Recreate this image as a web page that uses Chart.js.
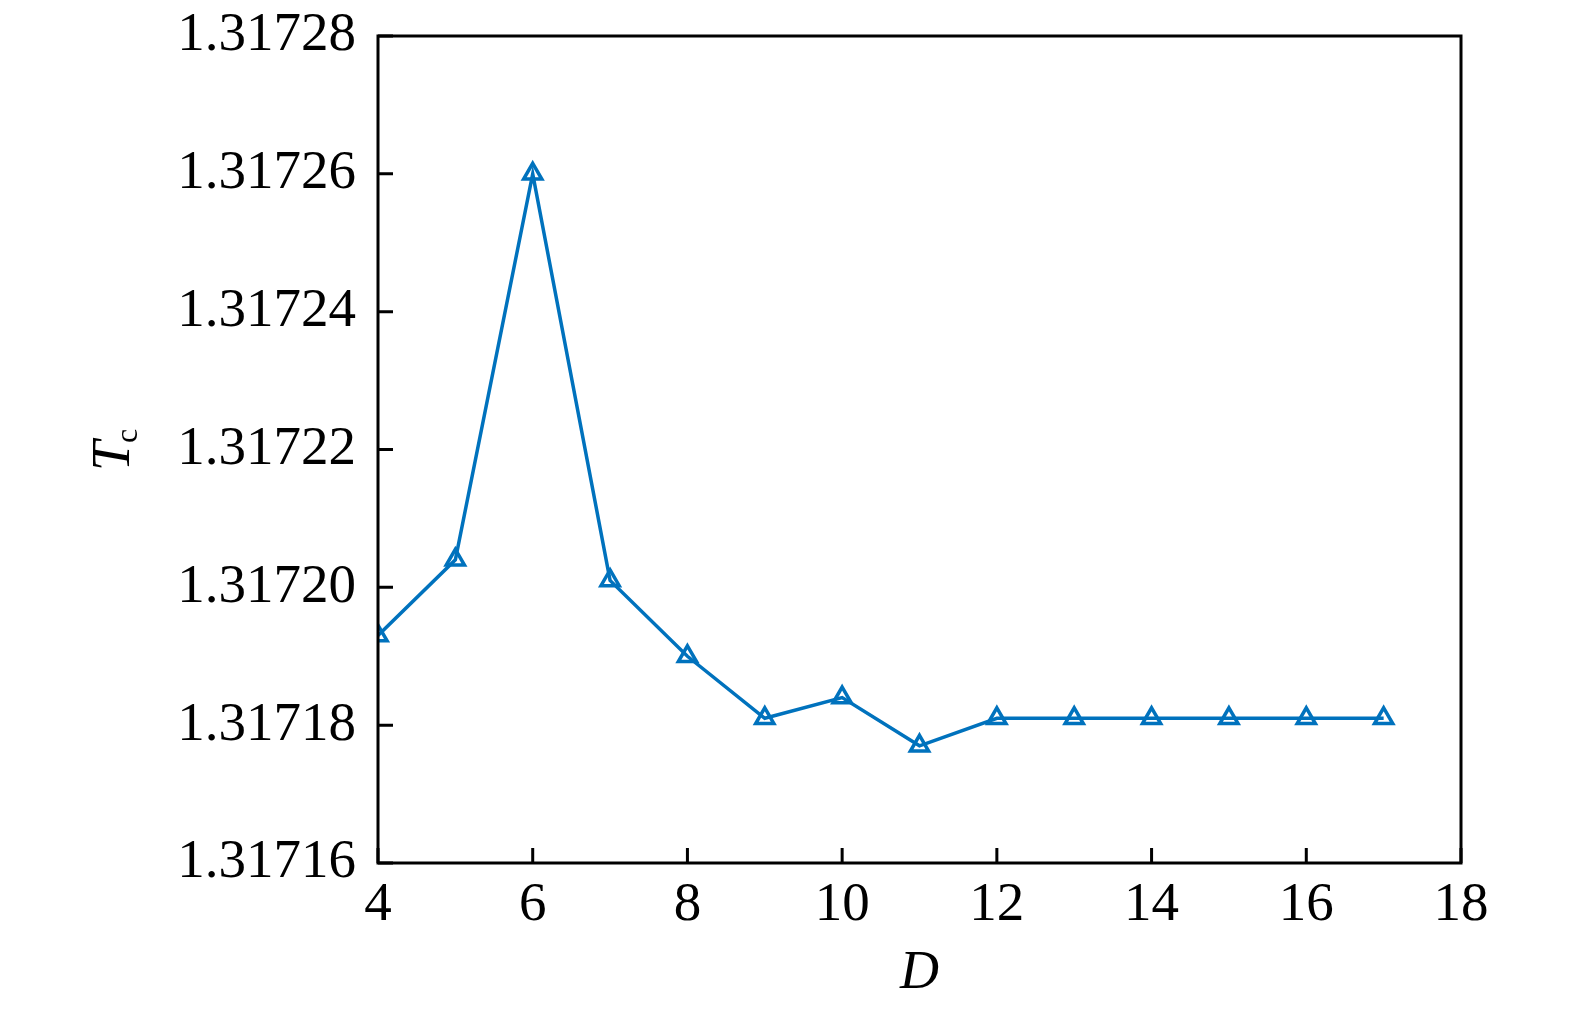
<!DOCTYPE html>
<html>
<head>
<meta charset="utf-8">
<script src="https://cdn.jsdelivr.net/npm/chart.js@4.4.0/dist/chart.umd.min.js"></script>
<style>
  html, body { margin: 0; padding: 0; background: #fff; }
  #wrap { width: 1575px; height: 1014px; }
</style>
</head>
<body>
<div id="wrap"><canvas id="chart"></canvas></div>
<script>
const dValues = [4, 5, 6, 7, 8, 9, 10, 11, 12, 13, 14, 15, 16, 17];
const tcValues = [1.317193, 1.317204, 1.31726, 1.317201, 1.31719, 1.317181, 1.317184,
                  1.317177, 1.317181, 1.317181, 1.317181, 1.317181, 1.317181, 1.317181];
const xTicks = [4, 6, 8, 10, 12, 14, 16, 18];
const yTicks = [1.31716, 1.31718, 1.3172, 1.31722, 1.31724, 1.31726, 1.31728];

const FONT = '"Liberation Serif", "DejaVu Serif", serif';
const BLUE = '#0072BD';

// frame, inward ticks and the T_c label
const framePlugin = {
    id: 'frame',
    afterDraw(chart) {
        const { ctx, chartArea: a, scales } = chart;
        ctx.save();
        ctx.strokeStyle = '#000';
        ctx.lineWidth = 3;
        ctx.strokeRect(a.left, a.top, a.right - a.left, a.bottom - a.top);
        ctx.beginPath();
        scales.x.ticks.forEach(t => {
            const px = scales.x.getPixelForValue(t.value);
            ctx.moveTo(px, a.bottom); ctx.lineTo(px, a.bottom - 15);
        });
        scales.y.ticks.forEach(t => {
            const py = scales.y.getPixelForValue(t.value);
            ctx.moveTo(a.left, py); ctx.lineTo(a.left + 15, py);
        });
        ctx.stroke();

        ctx.translate(129, 449);
        ctx.rotate(-Math.PI / 2);
        ctx.fillStyle = '#000';
        ctx.textBaseline = 'alphabetic';
        ctx.textAlign = 'left';
        ctx.font = 'italic 54px ' + FONT;
        const tw = ctx.measureText('T').width;
        ctx.font = '32px ' + FONT;
        const cw = ctx.measureText('c').width;
        const x0 = -(tw + cw) / 2;
        ctx.font = 'italic 54px ' + FONT;
        ctx.fillText('T', x0, 0);
        ctx.font = '32px ' + FONT;
        ctx.fillText('c', x0 + tw - 2, 8);
        ctx.restore();
    }
};

new Chart(document.getElementById('chart').getContext('2d'), {
    type: 'line',
    data: {
        datasets: [{
            data: dValues.map((d, i) => ({ x: d, y: tcValues[i] })),
            borderColor: BLUE,
            borderWidth: 3.5,
            pointStyle: 'triangle',
            pointRadius: 10.5,
            pointBorderWidth: 3.5,
            pointBackgroundColor: 'rgba(0,0,0,0)',
            pointBorderColor: BLUE,
            tension: 0
        }]
    },
    options: {
        responsive: true,
        maintainAspectRatio: false,
        animation: false,
        layout: { padding: { left: 0, right: 114, top: 36, bottom: 0 } },
        plugins: { legend: { display: false }, tooltip: { enabled: false } },
        scales: {
            x: {
                type: 'linear',
                min: 4, max: 18,
                afterBuildTicks: s => { s.ticks = xTicks.map(v => ({ value: v })); },
                afterFit: s => { s.height = 151; s.paddingLeft = 0; s.paddingRight = 0; },
                grid: { display: false },
                border: { display: false },
                ticks: { color: '#000', font: { family: FONT, size: 55 }, padding: 2, maxRotation: 0 },
                title: { display: true, text: 'D', color: '#000', font: { family: FONT, size: 54, style: 'italic' }, padding: { top: 10, bottom: 8 } }
            },
            y: {
                min: 1.31716, max: 1.31728,
                afterBuildTicks: s => { s.ticks = yTicks.map(v => ({ value: v })); },
                afterFit: s => { s.width = 378; s.paddingTop = 0; s.paddingBottom = 0; },
                grid: { display: false },
                border: { display: false },
                ticks: { color: '#000', font: { family: FONT, size: 55 }, padding: 14, callback: v => v.toFixed(5) }
            }
        }
    },
    plugins: [framePlugin]
});
</script>
</body>
</html>
